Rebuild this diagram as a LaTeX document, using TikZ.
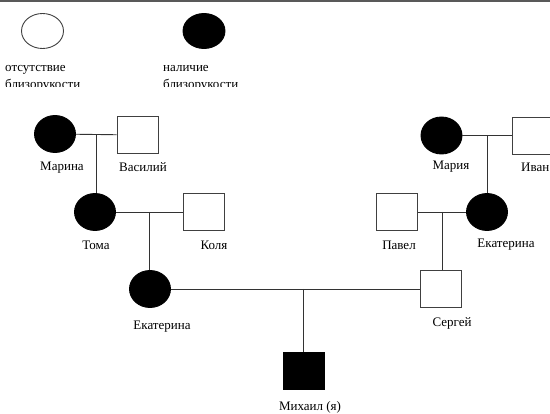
\documentclass[tikz,border=0pt]{standalone}
\usepackage{fontspec}
\setmainfont{Liberation Serif}
\usetikzlibrary{shapes.geometric,calc}

\begin{document}
\begin{tikzpicture}[x=1pt,y=-1pt,
  female/.style={ellipse, draw=black!75, line width=0.9pt, fill=white,
                 minimum width=41pt, minimum height=37pt, inner sep=0pt},
  femaleaff/.style={female, draw=black, fill=black},
  male/.style={rectangle, draw=black!75, line width=0.9pt, fill=white,
               minimum width=41pt, minimum height=37pt, inner sep=0pt},
  maleaff/.style={male, draw=black, fill=black},
  person/.style={font=\fontsize{13}{15}\selectfont, inner sep=0pt},
  legendtext/.style={font=\fontsize{13}{17}\selectfont, inner sep=0pt,
                     align=left, anchor=north west},
  link/.style={draw=black!80, line width=0.9pt}]

\useasboundingbox (0,0) rectangle (550,414);
\clip (0,0) rectangle (550,414);

% frame edge along the top
\draw[draw=black!65, line width=2.5pt] (0,1) -- (550,1);

% legend
\node[female, minimum height=35pt, minimum width=42pt] (lgnone) at (42.5,31) {};
\node[femaleaff, minimum height=35pt, minimum width=42pt] (lgyes) at (204,31) {};
\begin{scope}
  \clip (0,50) rectangle (550,86.5);
  \node[legendtext] (lgnonetxt) at (5,65) {отсутствие\\близорукости};
  \node[legendtext] (lgyestxt) at (163,65) {наличие\\близорукости};
\end{scope}

% father's side: grandparents and parents
\node[femaleaff] (marina) at (55,134) {};
\node[male] (vasiliy) at (137.5,135) {};
\node[person] (marinaL) at (62,168) {Марина};
\node[person] (vasiliyL) at (143,167) {Василий};

\node[femaleaff] (toma) at (95,212) {};
\node[male] (kolya) at (204,212) {};
\node[person] (tomaL) at (96,245) {Тома};
\node[person] (kolyaL) at (214,245) {Коля};

\node[femaleaff] (ekatL) at (150,289) {};
\node[person] (ekatLL) at (162,327) {Екатерина};

% mother's side
\node[femaleaff] (mariya) at (441.5,135.5) {};
\node[male] (ivan) at (532.5,135.5) {};
\node[person] (mariyaL) at (451,167) {Мария};
\node[person, anchor=west] (ivanL) at (521,167) {Иван};

\node[male] (pavel) at (397,212) {};
\node[femaleaff] (ekatR) at (487,212) {};
\node[person] (pavelL) at (399,245) {Павел};
\node[person] (ekatRL) at (506,245) {Екатерина};

\node[male] (sergey) at (441,289) {};
\node[person] (sergeyL) at (452,323) {Сергей};

% proband
\node[maleaff] (mikhail) at (303.5,370.5) {};
\node[person] (mikhailL) at (310,407) {Михаил (я)};

% couples and descent lines
\draw[link] (marina) -- (vasiliy);
\coordinate (c1) at ($(marina.east)!0.5!(vasiliy.west)$);
\draw[link] (c1) -- (c1 |- toma.north);

\draw[link] (toma) -- (kolya);
\coordinate (c2) at ($(toma.east)!0.5!(kolya.west)$);
\draw[link] (c2) -- (c2 |- ekatL.north);

\draw[link] (mariya) -- (ivan);
\coordinate (c3) at ($(mariya.east)!0.5!(ivan.west)$);
\draw[link] (c3) -- (c3 |- ekatR.north);

\draw[link] (pavel) -- (ekatR);
\coordinate (c4) at ($(pavel.east)!0.5!(ekatR.west)$);
\draw[link] (c4) -- (c4 |- sergey.north);

\draw[link] (ekatL) -- (sergey);
\coordinate (c5) at (mikhail.north |- ekatL.east);
\draw[link] (c5) -- (mikhail.north);
\end{tikzpicture}
\end{document}
